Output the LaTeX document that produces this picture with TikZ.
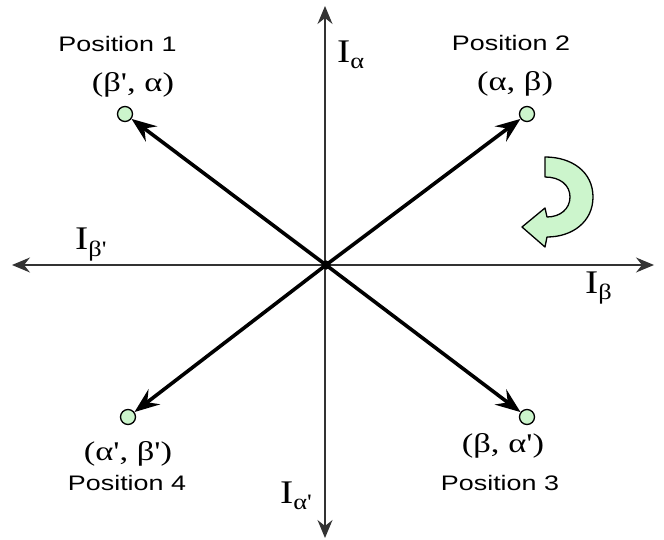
\documentclass[tikz,border=0pt]{standalone}
\usepackage{fontspec}
\usepackage{graphicx}
\setmainfont{Liberation Serif}
\newfontfamily\ser{Liberation Serif}
\newfontfamily\sns{Liberation Sans}
\usetikzlibrary{arrows.meta}
\definecolor{pale}{HTML}{CCF5CC}
\definecolor{axisgray}{HTML}{333333}
\newcommand\hs[1]{\scalebox{1.28}[1]{#1}}
\newcommand\Isub[1]{\scalebox{1.2}[1]{\fontsize{33}{33}\selectfont\ser I\raisebox{-6pt}{\fontsize{22}{22}\selectfont #1}}}
\tikzset{
 axis/.style={draw=axisgray, line width=1.5pt, {Stealth[length=18pt,width=15pt,inset=6pt]}-{Stealth[length=18pt,width=15pt,inset=6pt]}},
 vec/.style={line width=3.6pt, -{Stealth[length=25pt,width=19pt,inset=9pt]}},
 endpt/.style={circle, draw, fill=pale, line width=1.3pt, minimum size=15pt, inner sep=0pt},
 poslbl/.style={anchor=base, inner sep=0pt, font=\sns\fontsize{21}{21}\selectfont},
 gklbl/.style={anchor=base, inner sep=0pt, font=\ser\fontsize{27}{27}\selectfont},
 axlbl/.style={anchor=base west, inner sep=0pt},
 hub/.style={circle, fill=black, minimum size=9pt, inner sep=0pt},
 turn/.style={draw=black, line width=1.3pt, fill=pale, line join=round},
}
\begin{document}
\begin{tikzpicture}[x=1pt,y=-1pt]
\useasboundingbox (0,0) rectangle (664,540);
% axes
\coordinate (top) at (325,6);
\coordinate (bot) at (325,538);
\coordinate (lft) at (12,265);
\coordinate (rgt) at (654,265);
\draw[axis] (bot) -- (top);
\draw[axis] (lft) -- (rgt);
% hub and endpoints
\node[hub] (O) at (326,265) {};
\node[endpt] (p1) at (125,114) {};
\node[endpt] (p2) at (527,114) {};
\node[endpt] (p3) at (527,417) {};
\node[endpt] (p4) at (128,417) {};
\draw[vec] (O.center) -- (p1);
\draw[vec] (O.center) -- (p2);
\draw[vec] (O.center) -- (p3);
\draw[vec] (O.center) -- (p4);
\node[hub] at (326,265) {};
% labels
\node[poslbl] (t1) at (117.5,52) {\hs{Position 1}};
\node[gklbl] (c1) at (133,92) {\hs{(β', α)}};
\node[poslbl] (t2) at (511,51) {\hs{Position 2}};
\node[gklbl] (c2) at (515,91) {\hs{(α, β)}};
\node[gklbl] (c4) at (128,460) {\hs{(α', β')}};
\node[poslbl] (t4) at (127,490) {\hs{Position 4}};
\node[gklbl] (c3) at (503,452) {\hs{(β, α')}};
\node[poslbl] (t3) at (500,490) {\hs{Position 3}};
% axis labels
\node[axlbl] (la) at (337,63) {\Isub{α}};
\node[axlbl] (lap) at (280,503) {\Isub{α'}};
\node[axlbl] (lbp) at (75,250) {\Isub{β'}};
\node[axlbl] (lb) at (585,293) {\Isub{β}};
% rotation arrow
\draw[turn] (545,157) -- (545,177)
  .. controls (560,177) and (570,185) .. (570,197)
  .. controls (570,209) and (560,217) .. (547,217)
  -- (545,208) -- (522,227) -- (545,247) -- (547,237)
  .. controls (572,237) and (593,222) .. (593,197)
  .. controls (593,172) and (572,157) .. (545,157) -- cycle;
\end{tikzpicture}
\end{document}
